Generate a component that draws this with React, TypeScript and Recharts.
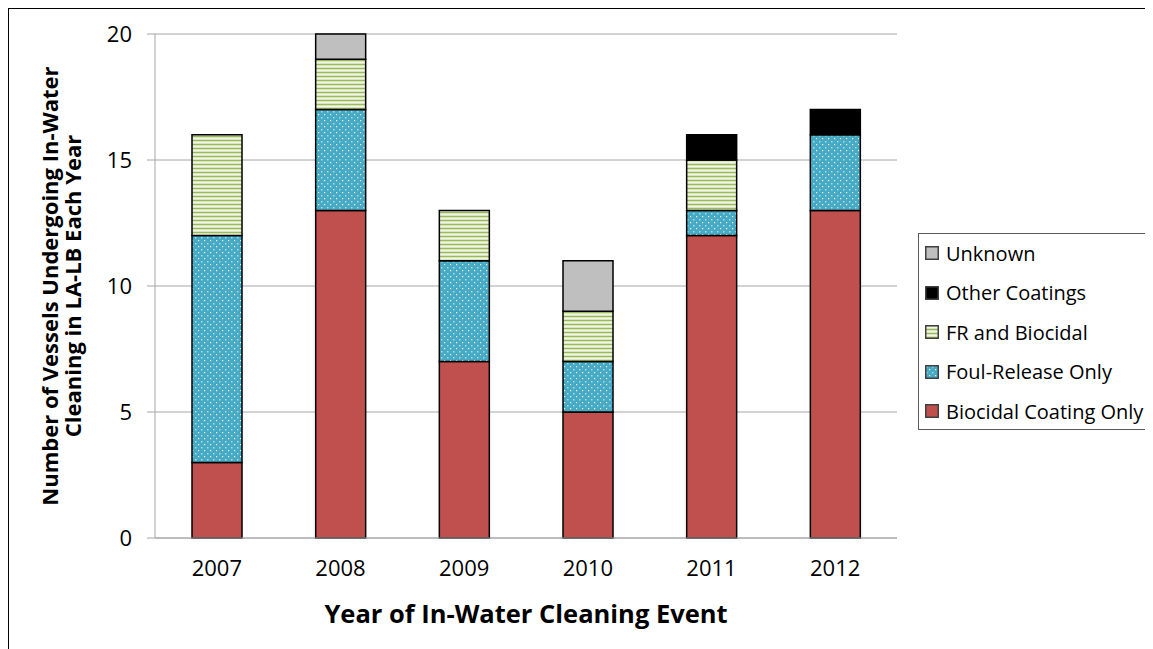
import React from 'react';
import { BarChart, Bar, XAxis, YAxis, CartesianGrid } from 'recharts';

const years = ['2007', '2008', '2009', '2010', '2011', '2012'];
const biocidal = [3, 13, 7, 5, 12, 13];
const foulRelease = [9, 4, 4, 2, 1, 3];
const frBiocidal = [4, 2, 2, 2, 2, 0];
const otherCoatings = [0, 0, 0, 0, 1, 1];
const unknown = [0, 1, 0, 2, 0, 0];
const yTicks = [0, 5, 10, 15, 20];
const edgeTicks = [0, 1, 2, 3, 4, 5, 6];

const seriesNames = {
  biocidal: 'Biocidal Coating Only',
  foulRelease: 'Foul-Release Only',
  frBiocidal: 'FR and Biocidal',
  otherCoatings: 'Other Coatings',
  unknown: 'Unknown',
};

const data = years.map((y, i) => ({
  year: y,
  biocidal: biocidal[i],
  foulRelease: foulRelease[i],
  frBiocidal: frBiocidal[i],
  otherCoatings: otherCoatings[i],
  unknown: unknown[i],
}));

const FONT = '"Open Sans", Lato, sans-serif';

const series = [
  { key: 'biocidal', fill: '#C0504D' },
  { key: 'foulRelease', fill: 'url(#dotsFR)' },
  { key: 'frBiocidal', fill: 'url(#stripesFRB)' },
  { key: 'otherCoatings', fill: '#000000' },
  { key: 'unknown', fill: '#BFBFBF' },
];

const legendOrder = ['unknown', 'otherCoatings', 'frBiocidal', 'foulRelease', 'biocidal'];

function Patterns() {
  return (
    <svg width={0} height={0} style={{ position: 'absolute' }}>
      <defs>
        <pattern id="dotsFR" width={6} height={6} patternUnits="userSpaceOnUse">
          <rect width={6} height={6} fill="#46AAC5" />
          <rect x={1} y={1} width={1.5} height={1.5} fill="#A9DCE9" />
          <rect x={4} y={4} width={1.2} height={1.2} fill="#FFFFFF" />
        </pattern>
        <pattern id="stripesFRB" width={8} height={4} patternUnits="userSpaceOnUse">
          <rect width={8} height={4} fill="#D7E4BD" />
          <rect y={0} width={8} height={1} fill="#9BBB59" />
          <rect y={2} width={8} height={1} fill="#F2F6E9" />
        </pattern>
      </defs>
    </svg>
  );
}

const XTitle = (props: any) => {
  const vb = props.viewBox;
  return (
    <text x={vb.x + vb.width / 2} y={vb.y + 75} textAnchor="middle" dominantBaseline="central"
      fontFamily={FONT} fontSize={25.5} fontWeight="bold" fill="#000">
      Year of In-Water Cleaning Event
    </text>
  );
};

const YTitle = (props: any) => {
  const vb = props.viewBox;
  const cy = vb.y + vb.height / 2;
  const cx = 54;
  return (
    <text transform={`rotate(-90, ${cx}, ${cy})`} x={cx} y={cy} textAnchor="middle"
      fontFamily={FONT} fontSize={22} fontWeight="bold" fill="#000">
      <tspan x={cx} dy={-4}>Number of Vessels Undergoing In-Water</tspan>
      <tspan x={cx} dy={23}>Cleaning in LA-LB Each Year</tspan>
    </text>
  );
};

function LegendBox() {
  return (
    <div style={{
      position: 'absolute', left: 910, top: 225, width: 233, height: 197,
      border: '1px solid #5a5a5a', background: '#fff', boxSizing: 'border-box',
      fontFamily: FONT, fontSize: 20, color: '#000',
    }}>
      {legendOrder.map((k, i) => {
        const s = series.find((x) => x.key === k)!;
        return (
          <div key={k} style={{ position: 'absolute', left: 6, top: 6 + i * 39.5, height: 26, display: 'flex', alignItems: 'center' }}>
            <svg width={14} height={14} style={{ marginRight: 7 }}>
              <rect x={0.75} y={0.75} width={12.5} height={12.5} fill={s.fill} stroke="#404040" strokeWidth={1.5} />
            </svg>
            <span style={{ whiteSpace: 'nowrap' }}>{(seriesNames as any)[k]}</span>
          </div>
        );
      })}
    </div>
  );
}

export default function App() {
  return (
    <div style={{ position: 'relative', width: 1145, height: 641, fontFamily: FONT }}>
      <Patterns />
      <div style={{ position: 'absolute', left: -1, top: -1, width: 1160, height: 660, borderTop: '2px solid #000', borderLeft: '2px solid #000', boxSizing: 'border-box' }} />
      <div style={{ position: 'absolute', left: 0, top: 0 }}>
        <BarChart width={1145} height={641} data={data} margin={{ top: 26, right: 256, bottom: 51, left: 0 }} barSize={50}>
          <CartesianGrid vertical={false} stroke="#A6A6A6" strokeWidth={1} />
          <XAxis xAxisId="edges" type="number" domain={[0, 6]} ticks={edgeTicks} height={0} axisLine={false}
            tick={false} tickSize={8} tickLine={{ stroke: '#A6A6A6' }} />
          <XAxis dataKey="year" height={60} tickLine={false} tickSize={0} tickMargin={22}
            axisLine={{ stroke: '#A6A6A6' }}
            tick={{ fill: '#000', fontSize: 22, fontFamily: FONT }}
            label={<XTitle />} />
          <YAxis width={147} domain={[0, 20]} ticks={yTicks} tickSize={8} tickMargin={15}
            axisLine={{ stroke: '#A6A6A6' }} tickLine={{ stroke: '#A6A6A6' }}
            tick={{ fill: '#000', fontSize: 22, fontFamily: FONT }}
            label={<YTitle />} />
          {series.map((s) => (
            <Bar key={s.key} dataKey={s.key} name={(seriesNames as any)[s.key]} stackId="a" fill={s.fill}
              stroke="#000" strokeWidth={1.5} isAnimationActive={false} />
          ))}
        </BarChart>
      </div>
      <LegendBox />
    </div>
  );
}
